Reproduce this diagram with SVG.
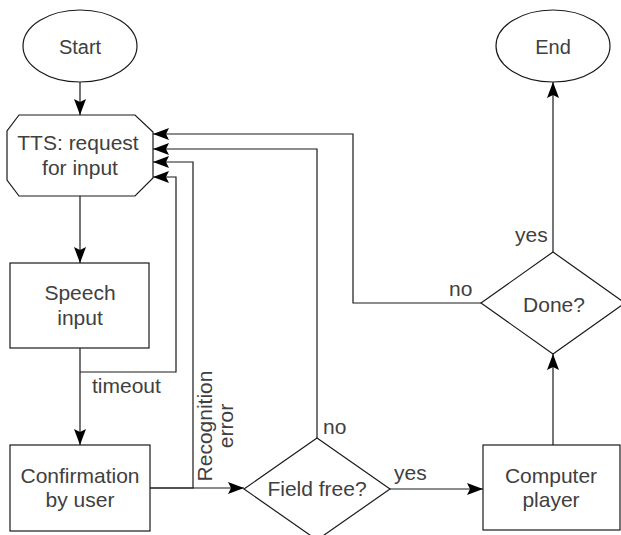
<svg xmlns="http://www.w3.org/2000/svg" width="621" height="535" viewBox="0 0 621 535">
  <style>
    .shape { fill: #ffffff; stroke: #1a1a1a; stroke-width: 1.2; }
    .label { font-family: "Liberation Sans", Arial, sans-serif; font-size: 21px; fill: #404040; text-anchor: middle; }
    .edge-label { font-family: "Liberation Sans", Arial, sans-serif; font-size: 21px; fill: #404040; }
    .wire { fill: none; stroke: #1a1a1a; stroke-width: 1.2; }
    .arrow { marker-end: url(#head); }
  </style>
  <defs>
    <marker id="head" markerUnits="userSpaceOnUse" markerWidth="17" markerHeight="12" refX="16" refY="6" orient="auto">
      <path d="M0,0 L16,6 L0,12 L3,6 z" fill="#000000"/>
    </marker>
  </defs>
  <rect width="621" height="535" fill="#ffffff"/>

  <!-- connectors -->
  <g id="connectors">
    <path class="wire arrow" d="M80,82 L80,115"/>
    <path class="wire arrow" d="M80,196 L80,263"/>
    <path class="wire arrow" d="M80,348 L80,445"/>
    <!-- timeout back to the prompt -->
    <path class="wire arrow" d="M80,372 L176,372 L176,177 L153,177"/>
    <!-- recognition error back to the prompt -->
    <path class="wire arrow" d="M150,488 L193,488 L193,162 L153,162"/>
    <!-- confirmed move to the field check -->
    <path class="wire arrow" d="M150,488 L244,488"/>
    <!-- field occupied -->
    <path class="wire arrow" d="M317,438 L317,149 L153,149"/>
    <path class="wire arrow" d="M390,489 L483,489"/>
    <path class="wire arrow" d="M553,445 L553,354"/>
    <!-- game not finished -->
    <path class="wire arrow" d="M481,303 L353,303 L353,134 L153,134"/>
    <path class="wire arrow" d="M553,252 L553,82"/>

    <text class="edge-label" x="92" y="393">timeout</text>
    <text class="label" transform="translate(212,426) rotate(-90)">Recognition</text>
    <text class="label" transform="translate(233,426) rotate(-90)">error</text>
    <text class="edge-label" x="323" y="434">no</text>
    <text class="edge-label" x="394" y="480">yes</text>
    <text class="edge-label" x="449" y="296">no</text>
    <text class="edge-label" x="515" y="242">yes</text>
  </g>

  <g id="start">
    <ellipse class="shape" cx="80" cy="46" rx="57" ry="36"/>
    <text class="label" x="80" y="54" style="font-size:20px">Start</text>
  </g>

  <g id="end">
    <ellipse class="shape" cx="553" cy="46" rx="57" ry="36"/>
    <text class="label" x="553" y="54" style="font-size:20px">End</text>
  </g>

  <g id="tts">
    <polygon class="shape" points="19,115 135,115 153,132 153,178 135,196 19,196 7,180 7,131"/>
    <text class="label" x="78" y="150">TTS: request</text>
    <text class="label" x="80" y="175">for input</text>
  </g>

  <g id="speech-input">
    <rect class="shape" x="10" y="263" width="139" height="85"/>
    <text class="label" x="80" y="300">Speech</text>
    <text class="label" x="80" y="325">input</text>
  </g>

  <g id="confirmation">
    <rect class="shape" x="10" y="445" width="140" height="86"/>
    <text class="label" x="80" y="483">Confirmation</text>
    <text class="label" x="80" y="507">by user</text>
  </g>

  <g id="field-free">
    <polygon class="shape" points="317,438 390,489 317,540 244,489"/>
    <text class="label" x="317" y="496">Field free?</text>
  </g>

  <g id="computer-player">
    <rect class="shape" x="483" y="445" width="137" height="85"/>
    <text class="label" x="551" y="483">Computer</text>
    <text class="label" x="551" y="507">player</text>
  </g>

  <g id="done">
    <polygon class="shape" points="553,252 625,303 553,354 481,303"/>
    <text class="label" x="554" y="312">Done?</text>
  </g>
</svg>
